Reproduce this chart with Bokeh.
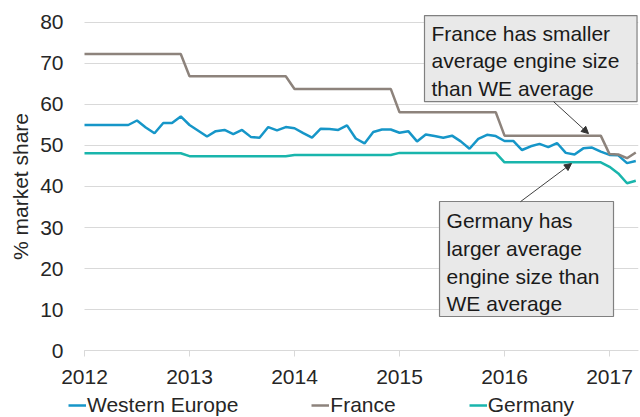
from bokeh.plotting import figure
from bokeh.models import (Range1d, FixedTicker, Legend, LegendItem, Arrow, NormalHead)
from bokeh.embed import file_html
from bokeh.resources import INLINE
from bokeh.core.properties import value

# ---- data (monthly, Jan 2012 .. Apr 2017) ----
month_index = list(range(64))
years = [2012 + m / 12 for m in month_index]

western_europe = [55.0, 55.0, 55.0, 55.0, 55.0, 55.0, 56.1, 54.4, 53.0, 55.5,
                  55.5, 57.1, 55.0, 53.6, 52.2, 53.5, 53.8, 52.8, 53.8, 52.1,
                  51.9, 54.5, 53.7, 54.5, 54.2, 53.0, 51.9, 54.1, 54.0, 53.8,
                  54.9, 51.7, 50.5, 53.3, 53.9, 53.9, 53.1, 53.5, 51.0, 52.7,
                  52.3, 51.9, 52.4, 51.0, 49.2, 51.6, 52.6, 52.3, 51.1, 51.1,
                  48.9, 49.8, 50.4, 49.6, 50.6, 48.2, 47.8, 49.3, 49.5, 48.5,
                  47.7, 47.6, 45.7, 46.2]
france = ([72.3] * 12 + [66.9] * 12 + [63.8] * 12 + [58.1] * 12 + [52.4] * 12
          + [47.9, 47.8, 46.9, 48.3])
germany = ([48.1] * 12 + [47.4] * 12 + [47.7] * 12 + [48.2] * 12 + [45.9] * 12
           + [44.8, 43.2, 40.8, 41.4])

series_names = ["Western Europe", "France", "Germany"]
series_colors = ["#1696c8", "#8d837c", "#19b5ac"]
x_ticks = [2012, 2013, 2014, 2015, 2016, 2017]
y_ticks = [0, 10, 20, 30, 40, 50, 60, 70, 80]

note_france = "France has smaller\naverage engine size\nthan WE average"
note_germany = "Germany has\nlarger average\nengine size than\nWE average"

FONT = "Liberation Sans"
FS = "21px"
TXT = "#262626"
X0, X1 = 2012, 2017.276   # plotted span
Y0, Y1 = 0, 80

# the frame fills the whole figure; both axes are pinned to data positions
p = figure(width=640, height=417, output_backend="svg", toolbar_location=None,
           x_range=Range1d(2011.2, X1), y_range=Range1d(-16.34, 81.95),
           min_border_left=0, min_border_right=2, min_border_top=14,
           min_border_bottom=0)
p.outline_line_color = None
p.background_fill_color = "white"

p.xgrid.grid_line_color = None
p.ygrid.grid_line_color = "#d9d9d9"
p.ygrid.grid_line_width = 1
has_cross = "cross_bounds" in p.ygrid[0].properties()
if has_cross:
    p.ygrid.cross_bounds = (X0, X1)

p.yaxis.fixed_location = X0
p.yaxis.bounds = (Y0, Y1)
p.yaxis.ticker = FixedTicker(ticks=y_ticks)
p.yaxis.axis_line_color = None
p.yaxis.major_tick_line_color = None
p.yaxis.minor_tick_line_color = None
p.yaxis.major_tick_out = 0
p.yaxis.major_tick_in = 0
p.yaxis.major_label_standoff = 21
p.yaxis.major_label_text_font = FONT
p.yaxis.major_label_text_font_size = FS
p.yaxis.major_label_text_color = TXT
p.yaxis.axis_label = "% market share"
p.yaxis.axis_label_text_font = FONT
p.yaxis.axis_label_text_font_size = FS
p.yaxis.axis_label_text_font_style = "normal"
p.yaxis.axis_label_text_color = TXT
p.yaxis.axis_label_standoff = 5

p.xaxis.fixed_location = Y0
p.xaxis.bounds = (X0, X1)
p.xaxis.ticker = FixedTicker(ticks=x_ticks)
p.xaxis.axis_line_color = "#d9d9d9"
p.xaxis.major_tick_line_color = "#d9d9d9"
p.xaxis.minor_tick_line_color = None
p.xaxis.major_tick_out = 6
p.xaxis.major_tick_in = 0
p.xaxis.major_label_standoff = 13
p.xaxis.major_label_text_font = FONT
p.xaxis.major_label_text_font_size = FS
p.xaxis.major_label_text_color = TXT

if not has_cross:
    # hide grid lines left of the plotted span
    p.quad(left=[2011.2], right=[X0], top=[81.95], bottom=[-16.34],
           fill_color="white", line_color=None)

renderers = []
for vals, col in zip([western_europe, france, germany], series_colors):
    renderers.append(p.line(years, vals, line_color=col, line_width=2.5))

# annotation boxes (drawn as glyphs so text sits on top)
p.quad(left=[2015.238, 2015.381], right=[2017.262, 2017.038],
       top=[81.7, 36.34], bottom=[60.7, 8.29],
       fill_color="#e9e9e9", line_color="#808080", line_width=1.2)
p.text(x=[2015.305, 2015.448], y=[80.24, 34.4], text=[note_france, note_germany],
       text_font=value(FONT), text_font_size=FS, text_color="#1a1a1a",
       text_baseline="top", text_align="left", text_line_height=1.2)

head = dict(size=7, fill_color="#333333", line_color="#333333")
p.add_layout(Arrow(end=NormalHead(**head), x_start=2016.467, y_start=60.7,
                   x_end=2016.80, y_end=52.9, line_color="#404040", line_width=1))
p.add_layout(Arrow(end=NormalHead(**head), x_start=2016.152, y_start=36.3,
                   x_end=2016.638, y_end=45.6, line_color="#404040", line_width=1))

legend = Legend(items=[LegendItem(label=n, renderers=[r]) for n, r in zip(series_names, renderers)],
                orientation="horizontal", location=(68, 0), spacing=73,
                glyph_width=18, glyph_height=22, label_height=22, label_standoff=1,
                label_text_font=FONT, label_text_font_size=FS,
                label_text_color=TXT, padding=0, margin=0,
                border_line_color=None, background_fill_alpha=0)
p.add_layout(legend, "center")

open("out.html", "w").write(file_html(p, INLINE))
